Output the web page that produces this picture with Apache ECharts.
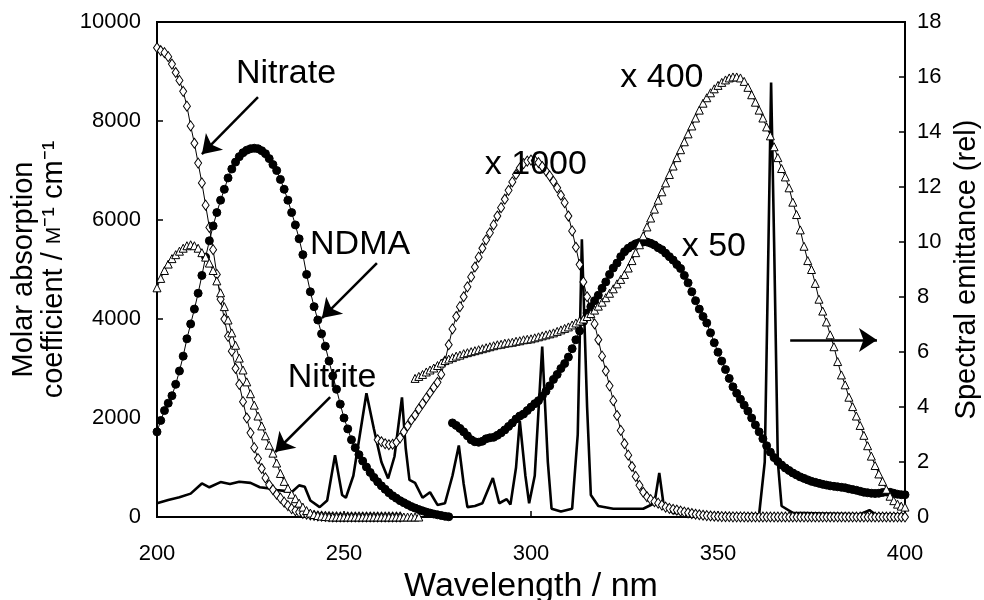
<!DOCTYPE html>
<html><head><meta charset="utf-8">
<script src="https://cdn.jsdelivr.net/npm/echarts@6/dist/echarts.min.js"></script>
<style>html,body{margin:0;padding:0;background:#fff}#c{width:984px;height:600px}</style>
</head><body><div id="c"></div>
<script>
// ---- data (wavelength in nm, step 1 nm from the given start) ----
const nitrateStart = 200;
const nitrate = [9480,9420,9380,9300,9150,8980,8820,8600,8300,7900,7550,7150,6750,6300,5850,5400,4900,4400,4000,3650,3350,3000,2680,2330,2000,1700,1400,1180,980,790,650,550,460,380,300,230,170,130,100,75,55,40,30,20,15,10,6,4,2,0,0,0,0,0,0,0,0,0,0,0,0,0,0,0,0,0];

const ndmaStart = 200;
const ndma = [1720,1950,2150,2300,2450,2680,2950,3250,3600,3900,4200,4520,4880,5250,5580,5880,6150,6400,6620,6850,7030,7170,7280,7360,7410,7440,7450,7440,7400,7340,7240,7120,7000,6820,6620,6400,6150,5900,5620,5300,4900,4550,4250,3980,3700,3450,3150,2850,2580,2280,2000,1780,1560,1400,1260,1130,1010,900,800,710,630,560,490,430,380,330,290,250,210,180,150,125,100,80,60,45,30,15,5];

const nitriteStart = 200;
const nitrite = [4630,4820,4980,5110,5220,5300,5370,5430,5480,5500,5480,5430,5340,5250,5130,4980,4770,4530,4250,3980,3720,3470,3210,2970,2730,2490,2260,2040,1840,1640,1450,1290,1090,880,720,580,460,370,280,200,130,80,50,30,20,10,5,0,0,0,0,0,0,0,0,0,0,0,0,0,0,0,0,0,0,0,0,0,0,0,0];

const nitrateX1000Start = 259;
const nitrateX1000 = [1560,1520,1480,1460,1470,1510,1600,1720,1840,1960,2060,2180,2290,2400,2510,2620,2720,2880,3150,3480,3800,4050,4250,4450,4650,4850,5050,5250,5430,5600,5740,5900,6080,6250,6420,6600,6770,6920,7050,7140,7190,7210,7200,7160,7080,6990,6890,6780,6650,6500,6350,6080,5780,5450,5100,4750,4450,4150,3900,3580,3250,2950,2650,2350,2050,1750,1480,1250,1020,820,640,500,410,350,310,280,240,200,175,155,140,120,100,85,70,55,45,35,28,20,15,10,8,6,5,4,3,2,1,0,0,0,0,0,0,0,0,0,0,0,0,0,0,0,0,0,0,0,0,0,0,0,0,0,0,0,0,0,0,0,0,0,0,0,0,0,0,0,0,0,0,0];

const ndmaX50Start = 279;
const ndmaX50 = [1900,1850,1790,1720,1640,1560,1520,1510,1530,1580,1600,1610,1650,1700,1760,1830,1900,1980,2040,2080,2150,2220,2290,2350,2440,2540,2650,2780,2880,3000,3100,3230,3400,3580,3760,3950,4120,4250,4370,4480,4620,4750,4900,5030,5130,5260,5360,5430,5480,5520,5545,5555,5555,5530,5495,5440,5400,5330,5260,5190,5100,5020,4880,4730,4550,4370,4200,4050,3920,3720,3520,3330,3150,2980,2800,2630,2500,2380,2260,2140,2000,1860,1720,1580,1440,1310,1200,1120,1050,990,940,890,850,810,780,750,720,700,680,660,645,630,620,610,600,590,570,555,540,520,500,490,480,475,480,495,505,500,480,460,450,450];

const nitriteX400Start = 269;
const nitriteX400 = [2800,2840,2880,2930,2970,3010,3060,3110,3160,3190,3220,3250,3270,3300,3320,3340,3360,3380,3400,3420,3440,3460,3480,3490,3510,3520,3530,3550,3560,3580,3590,3600,3620,3640,3660,3680,3700,3720,3750,3780,3810,3840,3880,3920,3960,4000,4050,4110,4180,4260,4340,4430,4520,4610,4710,4800,4900,5030,5180,5340,5500,5680,5860,6040,6220,6400,6570,6750,6920,7090,7260,7420,7580,7740,7900,8060,8220,8360,8470,8570,8650,8720,8780,8830,8870,8890,8890,8870,8800,8680,8530,8380,8220,8060,7880,7700,7480,7260,7040,6870,6650,6360,6110,5800,5470,5180,5000,4720,4400,4160,3940,3680,3440,3140,2870,2670,2420,2230,2040,1850,1650,1440,1230,1040,870,720,560,420,330,260,220,200];

// lamp spectral emittance (right axis)
const lampNm  = [200,203,206,209,212,214,217,219.5,222,225,227.5,230,232,234,236,238,239.5,241,243.5,245.5,247.6,249.5,250.5,252.5,256,258,260,261.8,263.5,265.5,266.5,267.5,269,271,273,275,277,279,280.7,282,283,285,287,289.8,291.5,293.5,294.5,296,297,298.5,299.5,301,303,304.5,305.5,308,311,312.5,313.6,315,316,318,322,330,333,334.3,335.5,338,350,361,362.5,363.5,364.2,365,366,367,370,388,390.5,392,400];
const lampVal = [0.5,0.62,0.72,0.85,1.22,1.08,1.27,1.2,1.28,1.24,1.08,1.04,0.98,0.95,0.9,1.15,1.1,0.6,0.36,0.6,2.25,0.8,0.7,1.5,4.5,3.2,2.0,1.4,2.2,4.35,2.5,1.35,1.24,0.7,0.9,0.44,0.5,1.5,2.6,1.2,0.36,0.4,0.5,1.42,0.5,0.65,0.45,1.8,3.5,1.5,0.5,1.5,6.2,2.0,0.3,0.2,0.3,3.0,10.1,4.0,0.8,0.4,0.3,0.3,0.5,1.6,0.4,0.15,0.1,0.1,2.0,10.0,15.8,10.0,2.0,0.4,0.15,0.1,0.25,0.1,0.1];

const xTicks = [200, 250, 300, 350, 400];
const yLeftTicks = [0, 2000, 4000, 6000, 8000, 10000];
const yRightTicks = [0, 2, 4, 6, 8, 10, 12, 14, 16, 18];

// annotations (data coordinates, left axis)
const annoTexts = [
  {text: 'Nitrate', at: [234.5, 8960]},
  {text: 'NDMA', at: [254.3, 5494]},
  {text: 'Nitrite', at: [246.8, 2808]},
  {text: 'x 1000', at: [301.3, 7110]},
  {text: 'x 400', at: [335.0, 8868]},
  {text: 'x 50', at: [348.9, 5454]}
];
const annoArrows = [
  {from: [227.0, 8484], to: [212.0, 7330]},
  {from: [258.8, 5131], to: [244.1, 4020]},
  {from: [246.3, 2424], to: [231.6, 1313]},
  {from: [369.3, 3575], to: [392.5, 3575]}
];

// ---- build ----
function pairs(start, vals) { return vals.map((v, i) => [start + i, v]); }
const FONT = 'Liberation Sans, Arial, Helvetica, sans-serif';

const markerSeries = (name, start, vals, symbol, filled, size) => ({
  name, type: 'line', yAxisIndex: 0, data: pairs(start, vals),
  symbol, symbolSize: size, showSymbol: true, smooth: false,
  lineStyle: {color: '#000', width: 1},
  itemStyle: {color: filled ? '#000' : '#fff', borderColor: '#000', borderWidth: 1},
  z: 3
});

const chart = echarts.init(document.getElementById('c'), null, {renderer: 'canvas'});
const option = {
  animation: false,
  backgroundColor: '#fff',
  grid: {left: 157, right: 79, top: 22, bottom: 83, outerBoundsMode: 'none', containLabel: false,
    show: true, borderColor: '#000', borderWidth: 2, backgroundColor: 'transparent'},
  xAxis: {
    type: 'value', min: xTicks[0], max: xTicks[xTicks.length - 1], interval: 50,
    name: 'Wavelength / nm', nameLocation: 'middle', nameGap: 43,
    nameTextStyle: {fontSize: 34, color: '#000', fontFamily: FONT},
    axisLine: {show: true, lineStyle: {color: '#000', width: 2}},
    axisTick: {show: true, inside: true, length: 6, lineStyle: {color: '#000', width: 1.5}},
    axisLabel: {fontSize: 22, color: '#000', fontFamily: FONT, margin: 26, formatter: v => String(v)},
    splitLine: {show: false}
  },
  yAxis: [{
    type: 'value', min: yLeftTicks[0], max: yLeftTicks[yLeftTicks.length - 1], interval: 2000,
    name: 'Molar absorption\ncoefficient / {sc|M}⁻¹ cm⁻¹', nameLocation: 'middle', nameGap: 74, nameRotate: 90,
    nameTextStyle: {fontSize: 29, color: '#000', fontFamily: FONT, lineHeight: 30,
      rich: {sc: {fontSize: 21, color: '#000', fontFamily: FONT, lineHeight: 30}}},
    axisLine: {show: true, lineStyle: {color: '#000', width: 2}},
    axisTick: {show: true, inside: true, length: 6, lineStyle: {color: '#000', width: 1.5}},
    axisLabel: {fontSize: 22, color: '#000', fontFamily: FONT, margin: 16, formatter: v => String(v)},
    splitLine: {show: false}
  }, {
    type: 'value', position: 'right', min: yRightTicks[0], max: yRightTicks[yRightTicks.length - 1], interval: 2,
    name: 'Spectral emittance (rel)', nameLocation: 'middle', nameGap: 42, nameRotate: 90,
    nameTextStyle: {fontSize: 29, color: '#000', fontFamily: FONT},
    axisLine: {show: true, lineStyle: {color: '#000', width: 2}},
    axisTick: {show: true, inside: true, length: 6, lineStyle: {color: '#000', width: 1.5}},
    axisLabel: {fontSize: 22, color: '#000', fontFamily: FONT, margin: 12, formatter: v => String(v)},
    splitLine: {show: false}
  }],
  series: [
    {
      name: 'Lamp', type: 'line', yAxisIndex: 1, data: lampNm.map((x, i) => [x, lampVal[i]]),
      showSymbol: false, symbol: 'none', smooth: false,
      lineStyle: {color: '#000', width: 2.6}, z: 2
    },
    markerSeries('Nitrate', nitrateStart, nitrate, 'diamond', false, [7, 10]),
    markerSeries('NDMA', ndmaStart, ndma, 'circle', true, 8),
    markerSeries('Nitrite', nitriteStart, nitrite, 'triangle', false, 8),
    markerSeries('Nitrate x1000', nitrateX1000Start, nitrateX1000, 'diamond', false, [7, 10]),
    markerSeries('NDMA x50', ndmaX50Start, ndmaX50, 'circle', true, 8),
    markerSeries('Nitrite x400', nitriteX400Start, nitriteX400, 'triangle', false, 8),
    {
      name: 'annotations', type: 'scatter', yAxisIndex: 0, data: [], z: 10,
      markLine: {
        silent: true, symbol: ['none', 'arrow'], symbolSize: 18,
        lineStyle: {color: '#000', width: 2.5, type: 'solid'},
        label: {show: false},
        data: annoArrows.map(a => [{coord: a.from}, {coord: a.to}])
      },
      markPoint: {
        silent: true, symbol: 'circle', symbolSize: 1,
        itemStyle: {color: 'rgba(0,0,0,0)'},
        label: {show: true, position: 'inside', color: '#000', fontSize: 34, fontFamily: FONT},
        data: annoTexts.map(t => ({coord: t.at, value: t.text, label: {formatter: t.text}}))
      }
    }
  ]
};
chart.setOption(option);
</script>
</body></html>
